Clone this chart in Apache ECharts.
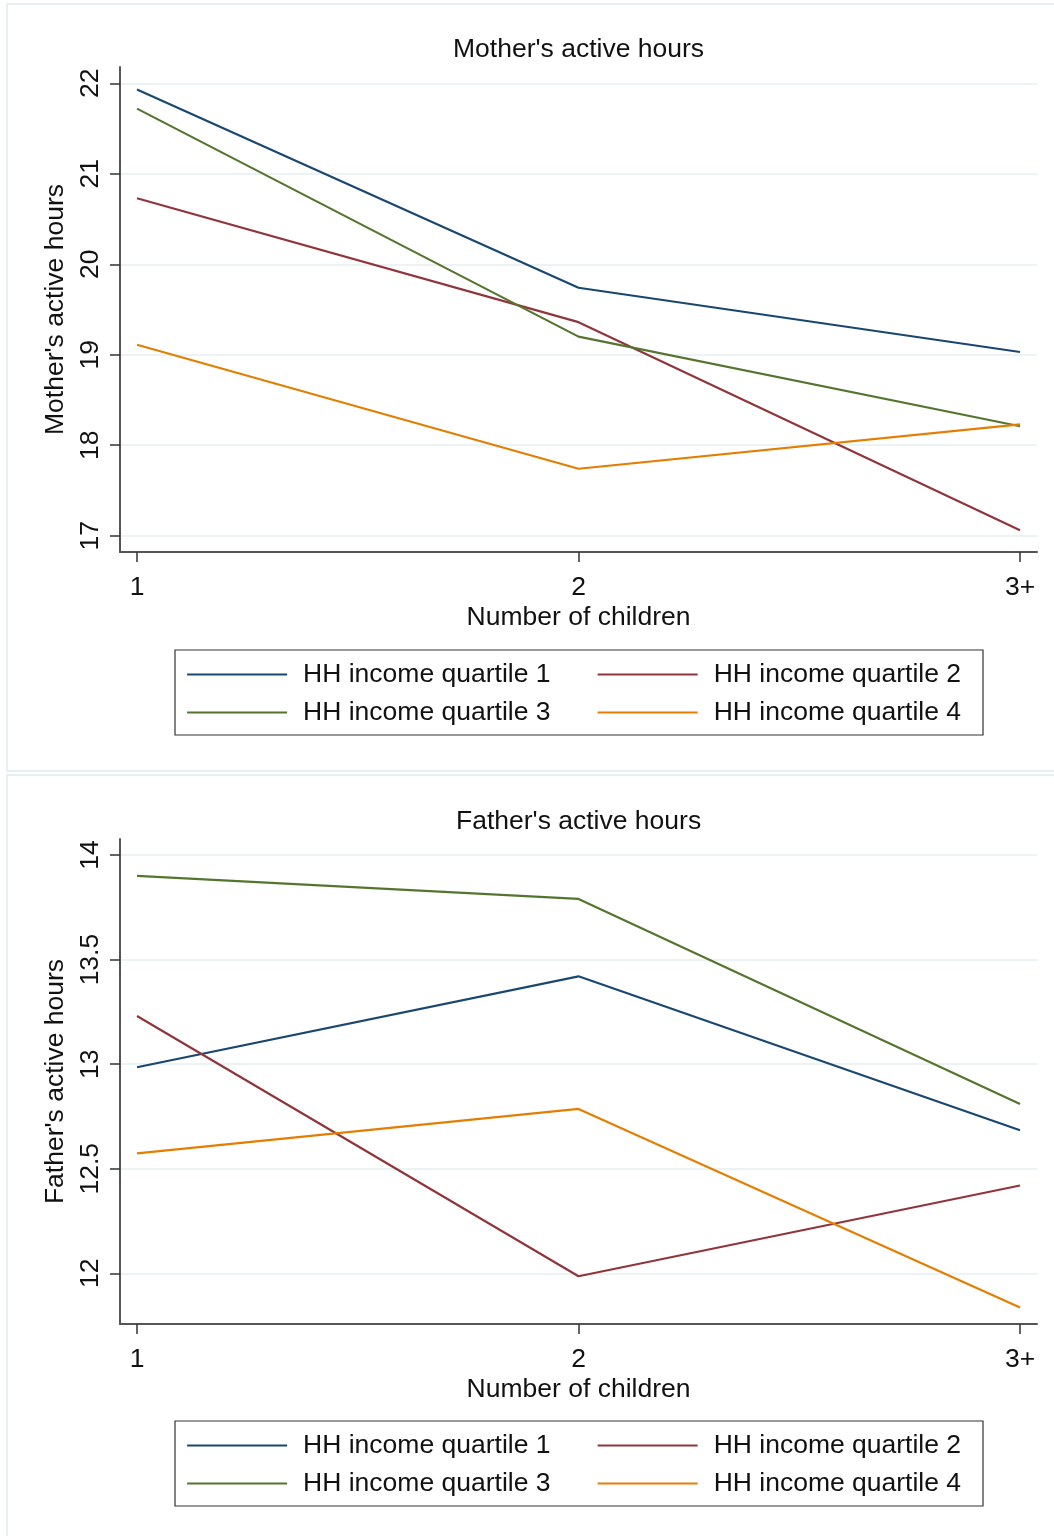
<!DOCTYPE html>
<html>
<head>
<meta charset="utf-8">
<title>Active hours by number of children</title>
<script src="https://cdn.jsdelivr.net/npm/echarts@6/dist/echarts.min.js"></script>
<style>
  html, body { margin: 0; padding: 0; background: #ffffff; }
  #chart { width: 1054px; height: 1536px; }
</style>
</head>
<body>
<div id="chart"></div>
<script>
// Number of children (x positions) and their tick labels
const xValues = [1, 2, 3];
const xTickLabels = ['1', '2', '3+'];

const quartileNames = ['HH income quartile 1', 'HH income quartile 2', 'HH income quartile 3', 'HH income quartile 4'];
const quartileColors = ['#1a476f', '#90353b', '#55752f', '#e37e00'];

// Mother's active hours by household income quartile
const motherQ1 = [21.93, 19.74, 19.03];
const motherQ2 = [20.73, 19.36, 17.06];
const motherQ3 = [21.72, 19.20, 18.21];
const motherQ4 = [19.11, 17.74, 18.23];
const motherTicks = [17, 18, 19, 20, 21, 22];

// Father's active hours by household income quartile
const fatherQ1 = [12.985, 13.42, 12.684];
const fatherQ2 = [13.23, 11.986, 12.42];
const fatherQ3 = [13.90, 13.79, 12.81];
const fatherQ4 = [12.573, 12.786, 11.836];
const fatherTicks = [12, 12.5, 13, 13.5, 14];

const FONT = '"Liberation Sans", Arial, sans-serif';
const FS = 26.5;
const PANEL_SHIFT = 772;

function pairs(vals) {
  return xValues.map((x, i) => [x, vals[i]]);
}

function xAxisFor(gridIndex) {
  return {
    type: 'value',
    gridIndex: gridIndex,
    min: 0.9615,
    max: 3.0385,
    name: 'Number of children',
    nameLocation: 'middle',
    nameGap: 52,
    nameTextStyle: { fontFamily: FONT, fontSize: FS, color: '#111' },
    axisLine: { show: true, lineStyle: { color: '#555', width: 2 } },
    axisTick: { show: true, length: 10, customValues: xValues, lineStyle: { color: '#333', width: 1.5 } },
    axisLabel: {
      customValues: xValues,
      margin: 22,
      fontFamily: FONT, fontSize: FS, color: '#111',
      formatter: v => xTickLabels[xValues.indexOf(Math.round(v))]
    },
    splitLine: { show: false }
  };
}

function yAxisFor(gridIndex, name, min, max, ticks) {
  return {
    type: 'value',
    gridIndex: gridIndex,
    min: min,
    max: max,
    name: name,
    nameLocation: 'middle',
    nameGap: 50,
    nameTextStyle: { fontFamily: FONT, fontSize: FS, color: '#111' },
    axisLine: { show: true, lineStyle: { color: '#555', width: 2 } },
    axisTick: { show: true, length: 10, customValues: ticks, lineStyle: { color: '#333', width: 1.5 } },
    axisLabel: {
      customValues: ticks,
      rotate: 90,
      margin: 16,
      fontFamily: FONT, fontSize: FS, color: '#111'
    },
    splitLine: { show: true, lineStyle: { color: '#e6eff1', width: 1.5 } }
  };
}

function lineSeries(idx, gridIndex, vals) {
  return {
    type: 'line',
    name: quartileNames[idx],
    xAxisIndex: gridIndex,
    yAxisIndex: gridIndex,
    data: pairs(vals),
    symbol: 'none',
    color: quartileColors[idx],
    lineStyle: { color: quartileColors[idx], width: 2.2 },
    silent: true,
    animation: false
  };
}

function legendRow(top, names) {
  return {
    data: names,
    left: 186,
    top: top,
    orient: 'horizontal',
    itemWidth: 100,
    itemHeight: 26,
    itemGap: 46,
    padding: 0,
    selectedMode: false,
    // only the line sample is shown, no marker on it
    itemStyle: { color: 'rgba(0,0,0,0)', borderWidth: 0, opacity: 0 },
    lineStyle: { width: 2.2 },
    textStyle: { fontFamily: FONT, fontSize: FS, color: '#111', padding: [0, 0, 0, 11] }
  };
}

function panelFrame(y, h) {
  return {
    type: 'rect',
    shape: { x: 7, y: y, width: 1060, height: h },
    style: { fill: 'none', stroke: '#e6eff1', lineWidth: 2 },
    silent: true
  };
}

function legendFrame(y) {
  return {
    type: 'rect',
    shape: { x: 175, y: y, width: 808, height: 85 },
    style: { fill: 'none', stroke: '#333', lineWidth: 1.2 },
    silent: true
  };
}

const option = {
  backgroundColor: '#ffffff',
  animation: false,
  title: [
    { text: "Mother's active hours", left: 453, top: 36, padding: 0,
      textStyle: { fontFamily: FONT, fontSize: FS, fontWeight: 'normal', color: '#111' } },
    { text: "Father's active hours", left: 456, top: 36 + PANEL_SHIFT, padding: 0,
      textStyle: { fontFamily: FONT, fontSize: FS, fontWeight: 'normal', color: '#111' } }
  ],
  grid: [
    { left: 120, width: 917, top: 67, height: 485 },
    { left: 120, width: 917, top: 67 + PANEL_SHIFT, height: 485 }
  ],
  xAxis: [xAxisFor(0), xAxisFor(1)],
  yAxis: [
    yAxisFor(0, "Mother's active hours", 16.82, 22.18, motherTicks),
    yAxisFor(1, "Father's active hours", 11.7576, 14.0765, fatherTicks)
  ],
  legend: [
    legendRow(661, [quartileNames[0], quartileNames[1]]),
    legendRow(699, [quartileNames[2], quartileNames[3]]),
    legendRow(661 + 771, [quartileNames[0], quartileNames[1]]),
    legendRow(699 + 771, [quartileNames[2], quartileNames[3]])
  ],
  graphic: [
    panelFrame(4, 767),
    panelFrame(775, 800),
    legendFrame(650),
    legendFrame(650 + 771)
  ],
  series: [
    lineSeries(0, 0, motherQ1),
    lineSeries(1, 0, motherQ2),
    lineSeries(2, 0, motherQ3),
    lineSeries(3, 0, motherQ4),
    lineSeries(0, 1, fatherQ1),
    lineSeries(1, 1, fatherQ2),
    lineSeries(2, 1, fatherQ3),
    lineSeries(3, 1, fatherQ4)
  ]
};

const chart = echarts.init(document.getElementById('chart'), null, { renderer: 'canvas' });
chart.setOption(option);
</script>
</body>
</html>
